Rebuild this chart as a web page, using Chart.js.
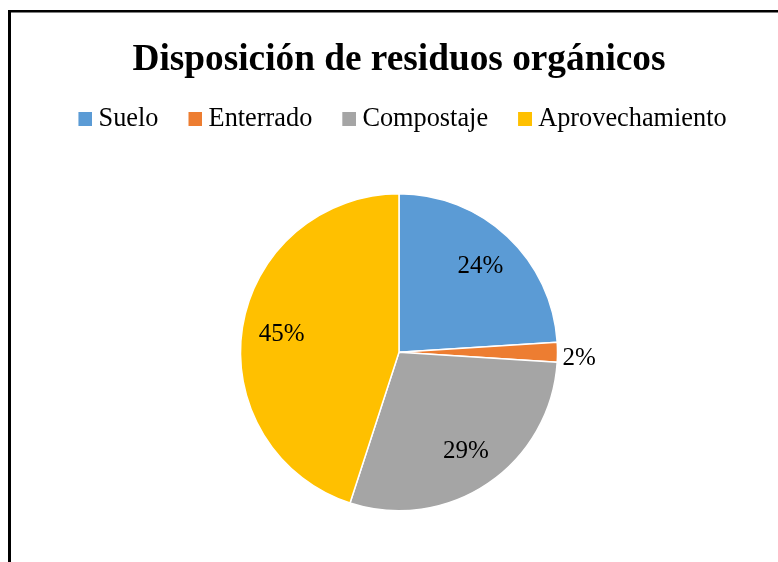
<!DOCTYPE html>
<html>
<head>
<meta charset="utf-8">
<script src="https://cdn.jsdelivr.net/npm/chart.js@4/dist/chart.umd.min.js"></script>
<style>
  html, body { margin: 0; padding: 0; background: #fff; overflow: hidden; }
  canvas { display: block; }
</style>
</head>
<body>
<canvas id="c" width="778" height="562" style="width:778px;height:562px"></canvas>
<script>
const titleText = 'Disposición de residuos orgánicos';
const categories = ['Suelo', 'Enterrado', 'Compostaje', 'Aprovechamiento'];
const percentages = [24, 2, 29, 45];
const colors = ['#5B9BD5', '#ED7D31', '#A5A5A5', '#FFC000'];

const FONT = "'Liberation Serif', 'Times New Roman', serif";

// legend markers: 14px square drawn on the right half of a 28px-wide image
const markers = colors.map(c => {
  const cv = document.createElement('canvas');
  cv.width = 28; cv.height = 14;
  const g = cv.getContext('2d');
  g.fillStyle = c;
  g.fillRect(14, 0, 14, 14);
  return cv;
});

const framePlugin = {
  id: 'frame',
  beforeDraw(chart) {
    const ctx = chart.ctx;
    ctx.save();
    ctx.fillStyle = '#ffffff';
    ctx.fillRect(0, 0, chart.width, chart.height);
    ctx.fillStyle = '#000000';
    ctx.fillRect(8, 10, chart.width - 8, 2.5);
    ctx.fillRect(8, 10, 3, chart.height - 10);
    ctx.restore();
  }
};

const labelPlugin = {
  id: 'sliceLabels',
  afterDatasetsDraw(chart) {
    const ctx = chart.ctx;
    const meta = chart.getDatasetMeta(0);
    const data = chart.data.datasets[0].data;
    const total = data.reduce((a, b) => a + b, 0);
    ctx.save();
    ctx.font = '25px ' + FONT;
    ctx.fillStyle = '#000';
    ctx.textBaseline = 'middle';
    meta.data.forEach((arc, i) => {
      const p = arc.getProps(['x', 'y', 'startAngle', 'endAngle', 'outerRadius'], true);
      const mid = (p.startAngle + p.endAngle) / 2;
      const frac = data[i] / total;
      const txt = data[i] + '%';
      if (frac >= 0.05) {
        const r = p.outerRadius * 0.75;
        ctx.textAlign = 'center';
        ctx.fillText(txt, p.x + Math.cos(mid) * r, p.y + Math.sin(mid) * r + 1);
      } else {
        const r = p.outerRadius + 5;
        ctx.textAlign = 'left';
        ctx.fillText(txt, p.x + Math.cos(mid) * r, p.y + Math.sin(mid) * r + 6);
      }
    });
    ctx.restore();
  }
};

new Chart(document.getElementById('c'), {
  type: 'pie',
  data: {
    labels: categories,
    datasets: [{
      data: percentages,
      backgroundColor: colors,
      borderColor: '#ffffff',
      borderWidth: 1.5,
      radius: 158.5
    }]
  },
  options: {
    responsive: false,
    animation: false,
    layout: { padding: { left: 20, right: 0, top: 0, bottom: -10 } },
    plugins: {
      tooltip: { enabled: false },
      title: {
        display: true,
        text: titleText,
        color: '#000',
        font: { family: FONT, size: 37.3, weight: 'bold', lineHeight: 1.2 },
        padding: { top: 38, bottom: 0.5 }
      },
      legend: {
        display: true,
        position: 'top',
        labels: {
          color: '#000',
          font: { family: FONT, size: 26.3 },
          usePointStyle: true,
          pointStyleWidth: 14,
          boxWidth: 14,
          boxHeight: 14,
          padding: 23,
          generateLabels(chart) {
            const items = Chart.overrides.pie.plugins.legend.labels.generateLabels(chart);
            return items.map((it, i) => Object.assign(it, { pointStyle: markers[i], lineWidth: 0 }));
          }
        }
      }
    }
  },
  plugins: [framePlugin, labelPlugin]
});
</script>
</body>
</html>
